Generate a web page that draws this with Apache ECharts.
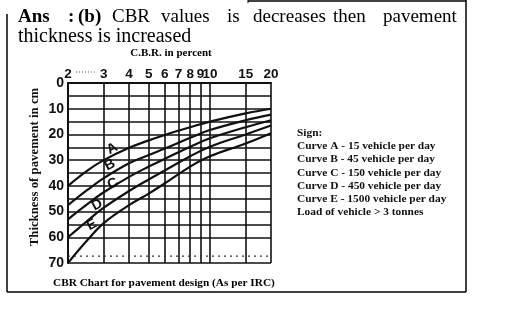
<!DOCTYPE html>
<html><head><meta charset="utf-8">
<script src="https://cdn.jsdelivr.net/npm/echarts@6/dist/echarts.min.js"></script>
<style>html,body{margin:0;padding:0;background:#fff}#c{width:506px;height:331px}</style>
</head><body><div id="c"></div>
<script>
// CBR (%) tick labels on the top log axis
const cbrTicks = [2, 3, 4, 5, 6, 7, 8, 9, 10, 15, 20];
const thickTicks = [0, 5, 10, 15, 20, 25, 30, 35, 40, 45, 50, 55, 60, 70];
const thickLabels = [0, 10, 20, 30, 40, 50, 60, 70];
// Curve values: [CBR %, thickness cm]
const curveA = [[2,40],[2.5,34],[3,30],[4,25.2],[5,22.3],[6,20.2],[8,17.2],[10,15],[15,11.8],[20,10]];
const curveB = [[2,47.5],[2.5,41.5],[3,37],[4,31.2],[5,28],[6,25.5],[8,21.3],[10,18.3],[15,14.5],[20,12.3]];
const curveC = [[2,53],[2.5,47],[3,42.5],[4,36.5],[5,32.5],[6,29.5],[8,24.8],[10,21.5],[15,17.2],[20,14.5]];
const curveD = [[2,60],[2.5,53.5],[3,48.5],[4,42],[5,37.5],[6,34],[8,28.5],[10,24.8],[15,20],[20,16.5]];
const curveE = [[2,70],[2.5,61],[3,54.5],[4,47.5],[5,43],[6,39],[8,32.5],[10,28.5],[15,23.5],[20,19.5]];
const curveNames = ['A','B','C','D','E'];
const curveLabelAt = [[3.3,25.6],[3.22,31.9],[3.33,39.2],[2.78,47.4],[2.62,55.2]];
const signLines = ['Sign:','Curve A - 15 vehicle per day','Curve B - 45 vehicle per day','Curve C - 150 vehicle per day','Curve D - 450 vehicle per day','Curve E - 1500 vehicle per day','Load of vehicle > 3 tonnes'];

const chart = echarts.init(document.getElementById('c'), null, {renderer:'canvas'});
const curves = [curveA, curveB, curveC, curveD, curveE];
const series = curves.map((d, i) => ({
  type: 'line', data: d, smooth: 0.4, symbol: 'none',
  lineStyle: {color: '#111', width: 2.2},
  markPoint: {
    symbol: 'circle', symbolSize: 0,
    data: [{coord: curveLabelAt[i], value: curveNames[i]}],
    label: {show: true, formatter: curveNames[i], color: '#111', fontFamily: 'Liberation Sans', fontWeight: 'bold', fontSize: 14, rotate: 28}
  }
}));
series.push({
  type: 'line', data: [[2,67.3],[20,67.3]], symbol: 'none', silent: true,
  lineStyle: {color: '#333', width: 1.3, type: [2, 4]}
});

const serif = 'Liberation Serif';
const gtext = (x, y, t, o) => Object.assign({type:'text', x, y, style: Object.assign({text: t, font: '19px ' + serif, fill: '#000', textVerticalAlign: 'middle'}, o || {})});
const graphics = [
  gtext(18, 17, 'Ans', {font: 'bold 19px ' + serif}),
  gtext(68, 17, ':', {font: 'bold 19px ' + serif}),
  gtext(78, 17, '(b)', {font: 'bold 19px ' + serif}),
  gtext(112, 17, 'CBR'), gtext(161, 17, 'values'), gtext(227, 17, 'is'),
  gtext(253, 17, 'decreases'), gtext(333, 17, 'then'), gtext(383, 17, 'pavement'),
  gtext(18, 37, 'thickness is increased', {font: '20px ' + serif}),
  {type:'text', x: 171, y: 53, style: {text: 'C.B.R. in percent', font: 'bold 11px ' + serif, fill: '#000', textAlign: 'center', textVerticalAlign: 'middle'}},
  {type:'text', x: 53, y: 283, style: {text: 'CBR Chart for pavement design (As per IRC)', font: 'bold 11.3px ' + serif, fill: '#000', textVerticalAlign: 'middle'}},
  {type:'text', x: 35, y: 167, rotation: Math.PI/2, style: {text: 'Thickness of pavement in cm', font: 'bold 12.8px ' + serif, fill: '#111', textAlign: 'center', textVerticalAlign: 'middle'}},
  {type:'line', shape:{x1:248,y1:1,x2:466,y2:1}, style:{stroke:'#000', lineWidth:1.5}},
  {type:'line', shape:{x1:248,y1:0,x2:248,y2:3}, style:{stroke:'#000', lineWidth:1}},
  {type:'line', shape:{x1:466,y1:0,x2:466,y2:292}, style:{stroke:'#000', lineWidth:1.5}},
  {type:'line', shape:{x1:7,y1:292,x2:466,y2:292}, style:{stroke:'#000', lineWidth:1.5}},
  {type:'line', shape:{x1:7,y1:14,x2:7,y2:292}, style:{stroke:'#000', lineWidth:1.5}},
  {type:'line', shape:{x1:76,y1:72,x2:97,y2:72}, style:{stroke:'#555', lineWidth:1, lineDash:[1,2]}}
];
signLines.forEach((t, i) => graphics.push({type:'text', x: 297, y: 133 + i*13.2, style: {text: t, font: 'bold 11.4px ' + serif, fill: '#111', textVerticalAlign: 'middle'}}));

chart.setOption({
  animation: false,
  grid: {left: 68, right: 235, top: 83, bottom: 68},
  xAxis: {
    type: 'log', logBase: 10, min: 2, max: 20, position: 'top',
    axisLine: {show: true, lineStyle: {color: '#111', width: 2}},
    axisTick: {show: false, customValues: cbrTicks},
    axisLabel: {customValues: cbrTicks, color: '#111', fontFamily: 'Liberation Sans', fontWeight: 'bold', fontSize: 13.5, margin: 2},
    splitLine: {show: true, lineStyle: {color: '#111', width: 1.6}}
  },
  yAxis: {
    type: 'value', inverse: true, min: 0, max: 70,
    axisLine: {show: true, lineStyle: {color: '#111', width: 2}},
    axisTick: {show: false, customValues: thickTicks},
    axisLabel: {customValues: thickLabels, color: '#111', fontFamily: 'Liberation Sans', fontWeight: 'bold', fontSize: 14, margin: 4},
    splitLine: {show: true, lineStyle: {color: '#111', width: 1.6}}
  },
  series,
  graphic: graphics
});
</script></body></html>
